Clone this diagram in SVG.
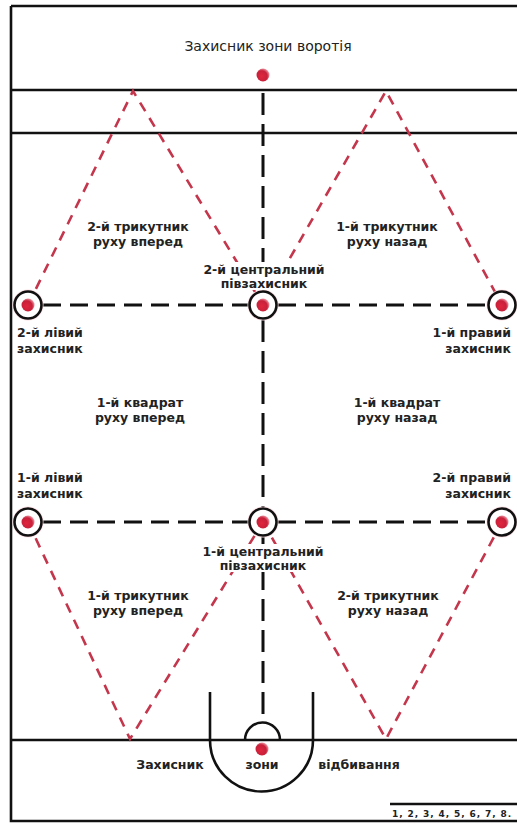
<svg xmlns="http://www.w3.org/2000/svg" width="517" height="824" viewBox="0 0 517 824">
  <style>
    .frame { stroke: #111; stroke-width: 2.6; fill: none; }
    .axis { stroke: #111; stroke-width: 3; fill: none; stroke-dasharray: 22 9; }
    .row { stroke: #111; stroke-width: 3; fill: none; stroke-dasharray: 18 9; }
    .move { stroke: #c4364c; stroke-width: 2.6; fill: none; stroke-dasharray: 10 8; stroke-linecap: butt; }
    .ring { stroke: #111; stroke-width: 2.6; fill: #fff; }
    .lbl { font-family: "DejaVu Sans", Verdana, sans-serif; font-size: 12.5px; font-weight: bold; fill: #222; }
    .mid { text-anchor: middle; }
    .end { text-anchor: end; }
    .title { font-family: "DejaVu Sans", Verdana, sans-serif; font-size: 14px; fill: #222; text-anchor: middle; }
    .foot { font-family: "DejaVu Sans", Verdana, sans-serif; font-size: 9px; font-weight: bold; fill: #222; letter-spacing: 0.9px; }
    .plate { fill: #fff; }
  </style>
  <defs>
    <radialGradient id="ball" cx="0.4" cy="0.6" r="0.6">
      <stop offset="0" stop-color="#e0263e"/>
      <stop offset="0.7" stop-color="#c8203a"/>
      <stop offset="1" stop-color="#e88a98"/>
    </radialGradient>
    <g id="player">
      <circle r="15.5" fill="#fbdde3"/>
      <circle r="13.5" class="ring"/>
      <circle r="6.5" fill="url(#ball)"/>
    </g>
  </defs>

  <rect width="517" height="824" fill="#fff"/>

  <!-- court outline and zone lines -->
  <g id="court">
    <path class="frame" d="M11 6 H517 M11 6 V821 H517"/>
    <line class="frame" x1="11" y1="90" x2="517" y2="90"/>
    <line class="frame" x1="11" y1="133" x2="517" y2="133"/>
    <line class="frame" x1="11" y1="740" x2="517" y2="740"/>
    <!-- rebound zone arcs -->
    <path class="frame" d="M210 692 V740 A51.5 51.5 0 0 0 313 740 V692"/>
    <path class="frame" d="M245 740 A17.5 17.5 0 0 1 280 740"/>
  </g>

  <!-- movement connectors -->
  <g id="connectors">
    <line class="axis" x1="263" y1="93" x2="263" y2="291"/>
    <line class="axis" x1="263" y1="320" x2="263" y2="508"/>
    <line class="axis" x1="263" y1="537" x2="263" y2="723"/>
    <line class="row" x1="43" y1="305" x2="248" y2="305"/>
    <line class="row" x1="278" y1="305" x2="488" y2="305"/>
    <line class="row" x1="43" y1="522" x2="248" y2="522"/>
    <line class="row" x1="278" y1="522" x2="488" y2="522"/>
    <!-- triangles of movement -->
    <polyline class="move" points="28,305 133,91 263,305"/>
    <polyline class="move" points="263,305 386,91 502,305"/>
    <polyline class="move" points="28,522 130,739 263,522"/>
    <polyline class="move" points="263,522 386,739 502,522"/>
  </g>

  <!-- players -->
  <g id="goal-defender"><circle cx="263" cy="75" r="6.5" fill="url(#ball)"/></g>
  <g id="rebound-defender"><circle cx="262" cy="749" r="6.5" fill="url(#ball)"/></g>
  <g id="left-2"><use href="#player" x="28" y="305"/></g>
  <g id="center-2"><use href="#player" x="263" y="305"/></g>
  <g id="right-1"><use href="#player" x="502" y="305"/></g>
  <g id="left-1"><use href="#player" x="28" y="522"/></g>
  <g id="center-1"><use href="#player" x="263" y="522"/></g>
  <g id="right-2"><use href="#player" x="502" y="522"/></g>

  <!-- labels -->
  <g id="labels">
    <text class="title" x="268" y="51">Захисник зони воротія</text>

    <text class="lbl mid" x="138" y="231">2-й трикутник</text>
    <text class="lbl mid" x="138" y="246">руху вперед</text>
    <text class="lbl mid" x="387" y="231">1-й трикутник</text>
    <text class="lbl mid" x="387" y="246">руху назад</text>

    <rect class="plate" x="198" y="262" width="132" height="28"/>
    <text class="lbl mid" x="264" y="274">2-й центральний</text>
    <text class="lbl mid" x="264" y="288">півзахисник</text>

    <text class="lbl" x="17" y="337">2-й лівий</text>
    <text class="lbl" x="17" y="353">захисник</text>
    <text class="lbl end" x="511" y="337">1-й правий</text>
    <text class="lbl end" x="511" y="353">захисник</text>

    <text class="lbl mid" x="140" y="407">1-й квадрат</text>
    <text class="lbl mid" x="140" y="422">руху вперед</text>
    <text class="lbl mid" x="397" y="407">1-й квадрат</text>
    <text class="lbl mid" x="397" y="422">руху назад</text>

    <text class="lbl" x="17" y="482">1-й лівий</text>
    <text class="lbl" x="17" y="498">захисник</text>
    <text class="lbl end" x="511" y="482">2-й правий</text>
    <text class="lbl end" x="511" y="498">захисник</text>

    <rect class="plate" x="196" y="544" width="134" height="28"/>
    <text class="lbl mid" x="263" y="556">1-й центральний</text>
    <text class="lbl mid" x="263" y="570">півзахисник</text>

    <text class="lbl mid" x="138" y="600">1-й трикутник</text>
    <text class="lbl mid" x="138" y="615">руху вперед</text>
    <text class="lbl mid" x="388" y="600">2-й трикутник</text>
    <text class="lbl mid" x="388" y="615">руху назад</text>

    <text class="lbl mid" x="170" y="769">Захисник</text>
    <text class="lbl mid" x="262" y="769">зони</text>
    <text class="lbl mid" x="359" y="769">відбивання</text>

    <line class="frame" x1="390" y1="804" x2="517" y2="804" stroke-width="2"/>
    <text class="foot" x="392" y="817">1, 2, 3, 4, 5, 6, 7, 8.</text>
  </g>
</svg>
